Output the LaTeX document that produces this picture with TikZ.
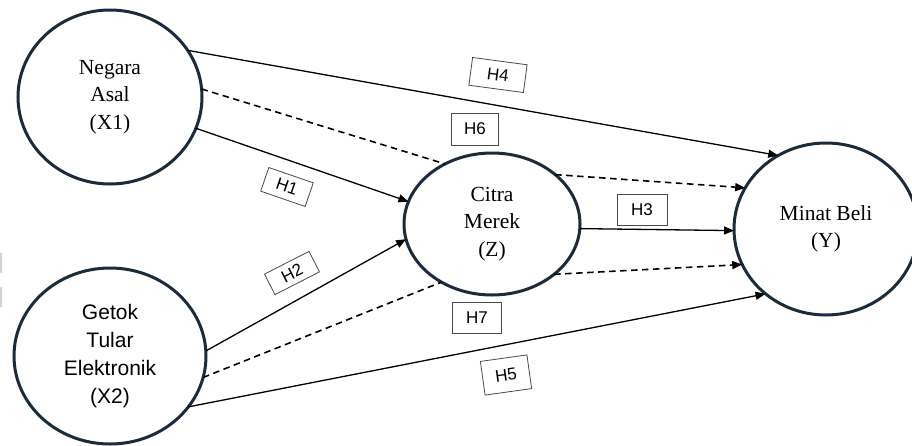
\documentclass[tikz,border=0pt]{standalone}
\usepackage{fontspec}
\setmainfont{Liberation Serif}
\setsansfont{Liberation Sans}
\usetikzlibrary{arrows.meta,shapes.geometric}
\definecolor{navy}{HTML}{1C2B3B}
\definecolor{boxgray}{HTML}{4A4A4A}
\begin{document}
\begin{tikzpicture}[x=1pt,y=-1pt,
  construct/.style={ellipse, draw=navy, line width=3pt, inner sep=0pt,
    outer sep=0pt, align=center, font=\fontsize{21.5}{27.5}\selectfont},
  hyp/.style={draw=boxgray, line width=0.8pt, fill=white, inner sep=0pt,
    font=\sffamily\fontsize{17}{17}\selectfont},
  direct/.style={line width=1.3pt, -{Triangle[length=10pt,width=8pt]}},
  medleg/.style={line width=1.6pt, dash pattern=on 6.5pt off 4.5pt},
  medarrow/.style={medleg, -{Triangle[length=10pt,width=8pt]}}
]
\useasboundingbox (0,0) rectangle (912,445);
\fill[white] (0,0) rectangle (912,445);
% faint marks on the left margin
\fill[gray!35] (0,253) rectangle (2,273);
\fill[gray!35] (0,287) rectangle (2,307);

% constructs
\node[construct, minimum width=184pt, minimum height=174pt] (x1) at (110,97)
  {Negara\\Asal\\(X1)};
\node[construct, minimum width=192pt, minimum height=176pt,
  font=\sffamily\fontsize{21}{28}\selectfont] (x2) at (110,356)
  {Getok\\Tular\\Elektronik\\(X2)};
\node[construct, minimum width=176pt, minimum height=142pt] (z) at (492,224)
  {Citra\\Merek\\(Z)};
\node[construct, minimum width=184pt, minimum height=172pt] (y) at (826,229)
  {Minat Beli\\(Y)};

% direct effects
\draw[direct] (x1.31) -- (y.123.5);
\draw[direct] (x1.-20.8) -- (z.165.8);
\draw[direct] (x2.3.5) -- (z.190.4);
\draw[direct] (z.-3.9) -- (y.-179.4);
\draw[direct] (x2.-33.4) -- (y.227.3);

% mediated effects through Z
\draw[medleg] (x1.5.8) -- (z.128.9);
\draw[medarrow] (z.38.7) -- (y.153.7);
\draw[medleg] (x2.-13) -- (z.229.1);
\draw[medarrow] (z.-39) -- (y.203.2);

% hypothesis labels
\node[hyp, minimum width=47pt, minimum height=25pt, rotate=-19] (h1) at (287,187) {H1};
\node[hyp, minimum width=50pt, minimum height=23pt, rotate=27] (h2) at (292,273) {H2};
\node[hyp, minimum width=50pt, minimum height=31pt] (h3) at (642,210) {H3};
\node[hyp, minimum width=55pt, minimum height=28pt, rotate=-7.6] (h4) at (498,75) {H4};
\node[hyp, minimum width=47pt, minimum height=34pt, rotate=8] (h5) at (506,375) {H5};
\node[hyp, minimum width=47pt, minimum height=32pt] (h6) at (475,129) {H6};
\node[hyp, minimum width=49pt, minimum height=31pt] (h7) at (477,318) {H7};
\end{tikzpicture}
\end{document}
